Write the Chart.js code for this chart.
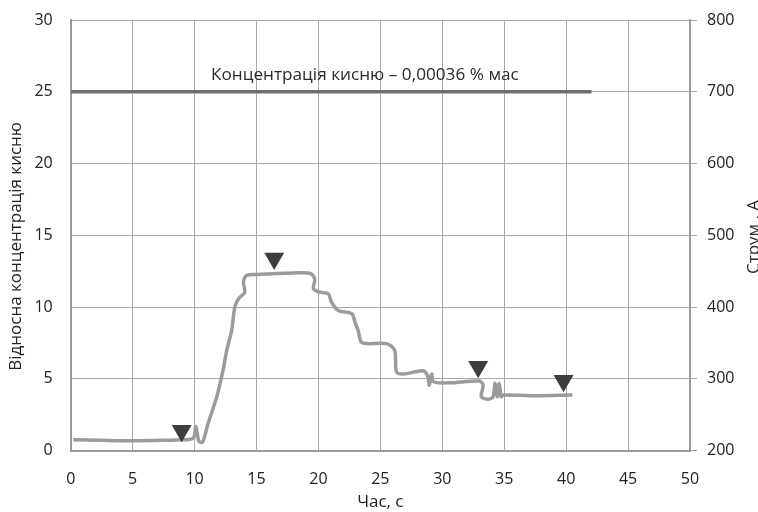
<!DOCTYPE html>
<html><head><meta charset="utf-8">
<script src="https://cdn.jsdelivr.net/npm/chart.js@4.4.0/dist/chart.umd.min.js"></script>
<style>html,body{margin:0;padding:0;background:#fff}</style>
</head><body>
<canvas id="c" width="758" height="512"></canvas>
<script>
const curveTime = [0.22, 2.5, 5.05, 7.5, 8.8, 9.9, 10.1, 10.35, 10.65, 11.1, 11.8, 12.3, 12.6, 13.0, 13.25, 13.55, 14.05, 13.95, 14.2, 15.0, 18.0, 19.3, 19.7, 19.6, 20.1, 20.8, 21.05, 21.6, 22.7, 22.95, 23.2, 23.45, 23.85, 25.5, 26.15, 26.3, 26.85, 28.45, 28.85, 28.95, 29.15, 29.3, 30.6, 33.0, 33.3, 33.15, 33.7, 34.1, 34.25, 34.45, 34.6, 34.75, 34.9, 37.35, 40.5];
const curveConc = [0.76, 0.72, 0.69, 0.72, 0.76, 0.88, 1.69, 0.65, 0.6, 1.92, 3.77, 5.61, 7.0, 8.39, 10.0, 10.58, 11.04, 11.73, 12.2, 12.27, 12.38, 12.36, 11.97, 11.27, 11.04, 10.93, 10.35, 9.77, 9.54, 8.96, 8.39, 7.58, 7.46, 7.46, 7.0, 5.5, 5.34, 5.57, 5.15, 4.57, 5.34, 4.8, 4.73, 4.85, 4.57, 3.76, 3.58, 3.76, 4.7, 3.76, 4.7, 3.76, 3.88, 3.83, 3.88];
const levelTime = [0, 42.05];
const levelConc = [25, 25];
const levelLabel = 'Концентрація кисню – 0,00036 % мас';
const markerTime = [8.96, 16.43, 32.9, 39.79];
const markerConc = [1.39, 13.39, 5.85, 4.87];
const xTitle = 'Час, с';
const yTitle = 'Відносна концентрація кисню';
const y2Title = 'Струм , А';

const FONT = '"Open Sans", "Noto Sans", sans-serif';
const zip = (xs, ys) => xs.map((x, i) => ({x: x, y: ys[i]}));

const textPlugin = {
  id: 'texts',
  afterDraw(chart) {
    const ctx = chart.ctx;
    const xs = chart.scales.x, ys = chart.scales.y;
    ctx.save();
    ctx.fillStyle = '#2b2b2b';
    ctx.font = '17.2px ' + FONT;
    ctx.textAlign = 'center';
    ctx.textBaseline = 'middle';
    ctx.fillText(levelLabel, xs.getPixelForValue(23.75), ys.getPixelForValue(26.16));
    ctx.font = '17px ' + FONT;
    ctx.translate(754, 237);
    ctx.rotate(-Math.PI / 2);
    ctx.fillText(y2Title, 0, 0);
    ctx.restore();
  }
};

new Chart(document.getElementById('c'), {
  type: 'scatter',
  data: {
    datasets: [
      {
        data: zip(curveTime, curveConc),
        showLine: true,
        borderColor: '#9b9b9b',
        borderWidth: 3.5,
        pointRadius: 0,
        tension: 0.3,
        yAxisID: 'y',
        order: 2
      },
      {
        data: zip(levelTime, levelConc),
        showLine: true,
        borderColor: '#6f6f6f',
        borderWidth: 3.5,
        pointRadius: 0,
        yAxisID: 'y',
        order: 3
      },
      {
        data: zip(markerTime, markerConc),
        showLine: false,
        pointStyle: 'triangle',
        rotation: 180,
        pointRadius: 11.5,
        pointBackgroundColor: '#3d3d3d',
        pointBorderWidth: 0,
        yAxisID: 'y',
        order: 1
      }
    ]
  },
  options: {
    responsive: false,
    animation: false,
    devicePixelRatio: 1,
    layout: {padding: {top: 20, left: 0, right: 0, bottom: 0}},
    plugins: {legend: {display: false}, tooltip: {enabled: false}},
    scales: {
      x: {
        type: 'linear', min: 0, max: 50,
        ticks: {stepSize: 5, padding: 19, color: '#222', font: {family: FONT, size: 16}},
        grid: {color: '#a9a9a9', lineWidth: 1, drawTicks: false},
        border: {color: '#9a9a9a', width: 2},
        title: {display: true, text: xTitle, color: '#222', font: {family: FONT, size: 17}, padding: 0},
        afterFit(s) { s.height = 61.3; }
      },
      y: {
        type: 'linear', position: 'left', min: 0, max: 30,
        ticks: {stepSize: 5, padding: 18, color: '#222', font: {family: FONT, size: 16}},
        grid: {color: '#a9a9a9', lineWidth: 1, drawTicks: false},
        border: {color: '#9a9a9a', width: 2},
        title: {display: true, text: yTitle + '     ', color: '#222', font: {family: FONT, size: 17}, padding: {top: 6, bottom: 0}},
        afterFit(s) { s.width = 70.7; s.paddingTop = 0; s.paddingBottom = 0; }
      },
      y2: {
        type: 'linear', position: 'right', min: 200, max: 800,
        ticks: {stepSize: 100, padding: 10, color: '#222', font: {family: FONT, size: 16}},
        grid: {drawOnChartArea: false, drawTicks: true, tickLength: 7, color: '#a9a9a9'},
        border: {color: '#9a9a9a', width: 2},
        afterFit(s) { s.width = 68; s.paddingTop = 0; s.paddingBottom = 0; }
      }
    }
  },
  plugins: [textPlugin]
});
</script>
</body></html>
